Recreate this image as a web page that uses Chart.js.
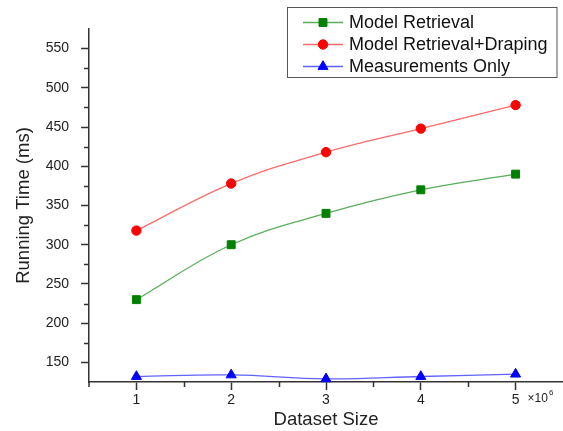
<!DOCTYPE html>
<html><head><meta charset="utf-8">
<script src="https://cdn.jsdelivr.net/npm/chart.js@4.4.0/dist/chart.umd.min.js"></script>
<style>html,body{margin:0;padding:0;background:#fff;} canvas{display:block;}</style>
</head><body>
<canvas id="c" width="563" height="431"></canvas>
<script>
const categories = [1, 2, 3, 4, 5];
const modelRetrieval = [230, 300, 340, 370, 390];
const modelRetrievalDraping = [318, 378, 418, 448, 478];
const measurementsOnly = [132, 134, 129, 132, 135];
const yTickLabels = [150, 200, 250, 300, 350, 400, 450, 500, 550];
const yMinorTicks = [175, 225, 275, 325, 375, 425, 475, 525];
const xTickLabels = [1, 2, 3, 4, 5];
const xMinorTicks = [1.5, 2.5, 3.5, 4.5];
const seriesNames = ['Model Retrieval', 'Model Retrieval+Draping', 'Measurements Only'];

const FONT = "'Liberation Sans', Arial, sans-serif";
const toXY = arr => categories.map((c, i) => ({x: c, y: arr[i]}));

const styles = [
  {line: 'rgba(60,160,60,0.85)', fill: '#008000', point: 'rect', radius: 5.6},
  {line: 'rgba(255,90,90,0.9)', fill: '#ff0000', point: 'circle', radius: 4.7},
  {line: 'rgba(70,70,255,0.85)', fill: '#0000ff', point: 'triangle', radius: 5.8}
];
const seriesData = [modelRetrieval, modelRetrievalDraping, measurementsOnly];

const datasets = seriesData.map((d, i) => ({
  label: seriesNames[i],
  data: toXY(d),
  borderColor: styles[i].line,
  borderWidth: 1.3,
  backgroundColor: styles[i].fill,
  pointBackgroundColor: styles[i].fill,
  pointBorderColor: styles[i].fill,
  pointBorderWidth: 1,
  pointStyle: styles[i].point,
  pointRadius: styles[i].radius,
  tension: 0.4,
  cubicInterpolationMode: 'default',
  clip: false
}));

const extrasPlugin = {
  id: 'extras',
  afterDraw(chart) {
    const ctx = chart.ctx;
    const xs = chart.scales.x, ys = chart.scales.y;
    ctx.save();
    // minor ticks
    ctx.strokeStyle = '#333';
    ctx.lineWidth = 1.5;
    ctx.beginPath();
    yMinorTicks.forEach(v => {
      const py = Math.round(ys.getPixelForValue(v)) + 0.5;
      ctx.moveTo(xs.left - 5, py); ctx.lineTo(xs.left, py);
    });
    xMinorTicks.forEach(v => {
      const px = Math.round(xs.getPixelForValue(v)) + 0.5;
      ctx.moveTo(px, ys.bottom); ctx.lineTo(px, ys.bottom + 5);
    });
    ctx.moveTo(xs.left, ys.bottom); ctx.lineTo(xs.left, ys.bottom + 5);
    ctx.stroke();

    // x10^6 multiplier
    ctx.fillStyle = '#222';
    ctx.textBaseline = 'middle';
    ctx.textAlign = 'left';
    ctx.font = '12px ' + FONT;
    const mx = xs.getPixelForValue(5) + 12;
    ctx.fillText('\u00d710', mx, 399);
    const w = ctx.measureText('\u00d710').width;
    ctx.font = '8px ' + FONT;
    ctx.fillText('6', mx + w + 1, 393);

    // legend
    const bx = 287.5, by = 7.5, bw = 269.5, bh = 70;
    ctx.strokeStyle = '#555';
    ctx.lineWidth = 1;
    ctx.fillStyle = '#fff';
    ctx.fillRect(bx, by, bw, bh);
    ctx.strokeRect(bx, by, bw, bh);
    const rows = [22.5, 44.5, 66.5];
    chart.data.datasets.forEach((ds, i) => {
      const y = rows[i];
      ctx.strokeStyle = ds.borderColor;
      ctx.lineWidth = 1.3;
      ctx.beginPath();
      ctx.moveTo(303, y); ctx.lineTo(343, y);
      ctx.stroke();
      ctx.fillStyle = ds.pointBackgroundColor;
      ctx.strokeStyle = ds.pointBorderColor;
      ctx.lineWidth = 1;
      Chart.helpers.drawPoint(ctx, {pointStyle: ds.pointStyle, radius: ds.pointRadius, rotation: 0, borderWidth: 1}, 323, y);
      ctx.fillStyle = '#111';
      ctx.font = '18px ' + FONT;
      ctx.textAlign = 'left';
      ctx.textBaseline = 'middle';
      ctx.fillText(ds.label, 349, y + 1);
    });
    ctx.restore();
  }
};

new Chart(document.getElementById('c'), {
  type: 'line',
  data: {datasets},
  options: {
    responsive: false,
    animation: false,
    devicePixelRatio: 1,
    layout: {autoPadding: false, padding: {top: 29, right: 0, left: 0, bottom: 0}},
    plugins: {legend: {display: false}, tooltip: {enabled: false}},
    scales: {
      x: {
        type: 'linear',
        min: 0.5, max: 5.5,
        afterFit(s) { s.height = 49; },
        afterBuildTicks(s) { s.ticks = xTickLabels.map(v => ({value: v})); },
        grid: {drawOnChartArea: false, tickLength: 8, tickColor: '#333', tickWidth: 1.5},
        border: {display: true, color: '#333', width: 1.5},
        ticks: {color: '#222', font: {family: FONT, size: 14}, padding: 2, maxRotation: 0, autoSkip: false},
        title: {display: true, text: 'Dataset Size', color: '#222', font: {family: FONT, size: 18.5}, padding: {top: 0, bottom: 0}}
      },
      y: {
        type: 'linear',
        min: 125, max: 575,
        afterFit(s) { s.width = 89; },
        afterBuildTicks(s) { s.ticks = yTickLabels.map(v => ({value: v})); },
        grid: {drawOnChartArea: false, tickLength: 8, tickColor: '#333', tickWidth: 1.5},
        border: {display: true, color: '#333', width: 1.5},
        ticks: {color: '#222', font: {family: FONT, size: 14}, padding: 12, autoSkip: false},
        title: {display: true, text: 'Running Time (ms)', color: '#222', font: {family: FONT, size: 18.5}, padding: {top: 13, bottom: 0}}
      }
    }
  },
  plugins: [extrasPlugin]
});
</script>
</body></html>
